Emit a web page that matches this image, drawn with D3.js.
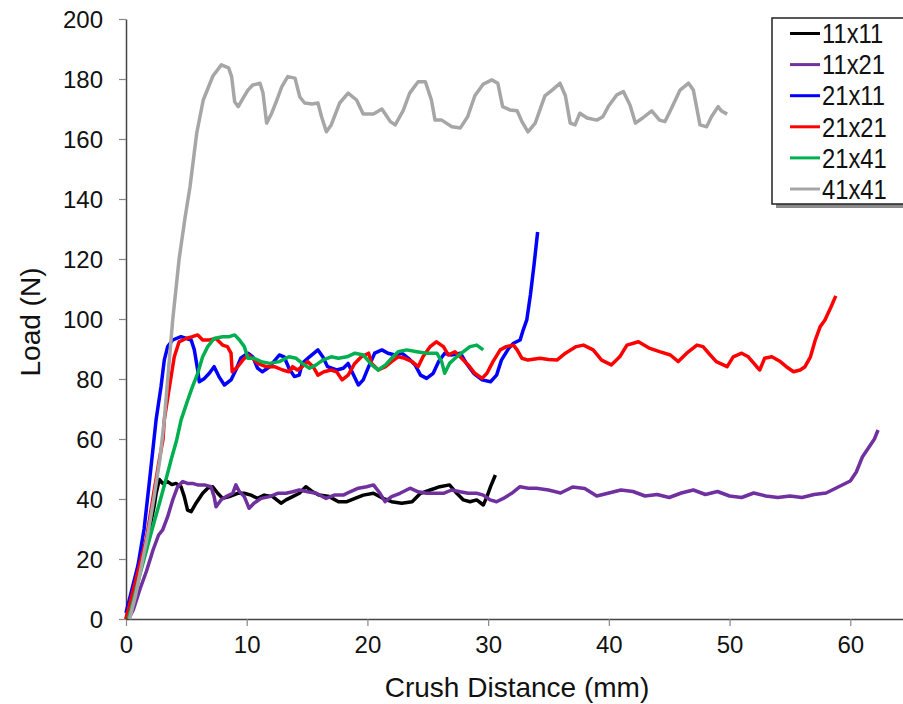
<!DOCTYPE html>
<html>
<head>
<meta charset="utf-8">
<script src="https://cdn.jsdelivr.net/npm/d3@7"></script>
<style>
  body { margin: 0; background: #fff; }
  svg { display: block; font-family: "Liberation Sans", Arial, sans-serif; }
</style>
</head>
<body>
<div id="chart"></div>
<script>
// series names, in legend order
const seriesNames = ["11x11", "11x21", "21x11", "21x21", "21x41", "41x41"];
const seriesColors = ["#000000", "#7030A0", "#0000FF", "#FF0000", "#00B050", "#A6A6A6"];

const xTicks = [0, 10, 20, 30, 40, 50, 60];
const yTicks = [0, 20, 40, 60, 80, 100, 120, 140, 160, 180, 200];

// [crush distance mm, load N]
const s11x11 = [[0,0],[0.5,7],[1,15],[1.5,23],[2,31],[2.35,38],[2.5,42],[2.76,46.5],[3.04,45.2],[3.45,45.8],[3.8,44.8],[4.14,45.2],[4.56,44.1],[4.83,40.8],[5.1,36.3],[5.4,35.8],[5.8,38.6],[6.35,41.9],[6.77,43.6],[7.18,44.1],[7.6,41.9],[8.0,40.2],[8.56,40.8],[9.25,41.9],[9.8,41.9],[10.36,41.3],[10.9,40.2],[11.45,41.3],[12.15,40.8],[12.84,38.6],[13.26,39.7],[13.8,40.8],[14.36,41.9],[14.9,44.1],[15.47,42.4],[16.0,41.3],[16.84,40.8],[17.6,39.1],[18.3,39.1],[18.97,40.2],[19.66,41.3],[20.5,41.9],[21.3,40.2],[22.0,39.1],[22.84,38.6],[23.7,39.1],[24.4,41.9],[25.2,43],[26.0,44.1],[26.8,44.7],[27.4,41.9],[27.95,39.7],[28.5,39.1],[29.05,39.7],[29.6,38],[29.9,40.8],[30.2,44.1],[30.6,48]];

const s11x21 = [[0.2,0],[0.6,3],[1.16,10],[1.7,16],[2.24,23],[2.7,28],[3.04,29.7],[3.45,34.1],[3.87,39.7],[4.28,44.1],[4.7,45.8],[5.1,45.2],[5.5,45.2],[5.94,44.7],[6.5,44.7],[7.04,44.1],[7.3,40.8],[7.46,37.4],[7.87,39.7],[8.28,40.8],[8.84,41.9],[9.1,44.7],[9.4,42.4],[9.8,40.8],[10.2,36.9],[10.6,38.6],[11.2,40.2],[11.9,40.8],[12.56,41.9],[13.26,41.9],[13.8,42.4],[14.36,43],[15.05,42.4],[15.75,41.9],[16.57,40.2],[17.26,41.3],[18.0,41.3],[18.56,42.4],[19.25,43.6],[19.94,44.1],[20.5,44.7],[21.04,41.9],[21.46,39.1],[22.0,40.8],[22.7,41.9],[23.53,43.6],[24.2,42.4],[24.9,41.9],[25.6,41.9],[26.3,41.9],[26.98,43],[27.67,42.4],[28.36,41.9],[29.05,41.9],[29.6,41.3],[30.16,39.7],[30.7,39.1],[31.26,40.2],[31.95,41.9],[32.64,44.1],[33.33,43.6],[34.0,43.6],[35,43],[36,42],[37,44],[38,43.5],[39,41],[40,42],[41,43],[42,42.5],[43,41],[44,41.5],[45,40.5],[46,42],[47,43],[48,41.5],[49,42.5],[50,41],[51,40.5],[52,42],[53,41],[54,40.5],[55,41],[56,40.5],[57,41.5],[58,42],[59,44],[59.5,45],[60,46],[60.5,49],[61,54],[61.5,57],[62,60],[62.3,63]];

const s21x11 = [[0,2],[0.5,10],[1,18],[1.5,30],[2,48],[2.49,66.3],[2.9,77.4],[3.17,86.3],[3.45,90.8],[3.87,93],[4.55,94.1],[5.4,93],[5.66,89.7],[5.94,83],[6.07,79.1],[6.5,80.2],[6.9,81.9],[7.3,84.1],[7.7,80.8],[8.15,78],[8.7,79.7],[9.1,83],[9.5,86.9],[10.1,88.6],[10.5,87.4],[10.9,83.6],[11.3,82.4],[11.9,84.1],[12.7,88],[13.1,87.4],[13.5,83.6],[13.95,80.8],[14.35,81.3],[14.6,85.2],[15.2,87.4],[15.9,89.7],[16.3,87.4],[16.7,84.1],[17.45,83],[18.0,83.6],[18.4,85.2],[18.85,81.3],[19.25,78],[19.65,79.7],[20.1,84.1],[20.6,88.6],[21.2,89.7],[21.7,88.6],[22.3,88],[22.85,88.6],[23.4,86.9],[23.95,84.7],[24.4,81.3],[24.9,80.2],[25.45,81.9],[25.9,85.8],[26.4,88.6],[26.95,88],[27.7,88.6],[28.2,85.2],[28.8,81.9],[29.5,79.7],[30.2,79.1],[30.7,81.3],[31.1,86.3],[31.7,90.2],[32.1,91.9],[32.65,93],[32.9,96.3],[33.2,99.7],[33.5,108],[33.8,118],[34.1,129]];

const s21x21 = [[0,0],[0.5,8],[1,16],[1.7,27],[2.3,42],[2.8,54],[3.07,60],[3.17,66.3],[3.6,77.4],[4.0,87.4],[4.4,92.4],[4.97,93.5],[5.5,94.1],[5.94,94.7],[6.35,93],[6.9,93],[7.45,93.5],[8.0,91.3],[8.4,90.8],[8.7,88.6],[8.8,82.4],[9.25,84.1],[9.67,86.3],[10.1,88],[10.5,86.9],[10.9,85.2],[11.6,84.1],[12.3,84.1],[12.98,83],[13.5,82.4],[13.8,84.1],[14.2,83],[14.6,84.1],[15.05,85.8],[15.5,84.1],[15.9,81.3],[16.4,82.4],[17.0,83],[17.45,82.4],[17.9,79.7],[18.4,81.3],[18.95,85.2],[19.5,87.4],[20.1,88.6],[20.35,85.2],[20.9,83],[21.5,84.1],[22.0,85.8],[22.55,87.4],[23.1,86.9],[23.7,85.8],[24.2,84.1],[24.6,87.4],[25.2,90.8],[25.7,92.4],[26.3,90.8],[26.7,88],[27.25,89.1],[27.8,86.9],[28.35,84.7],[28.9,81.9],[29.5,80.2],[29.9,81.9],[30.4,85.8],[31.0,89.7],[31.5,90.8],[32.1,91.3],[32.4,89.7],[32.8,86.9],[33.3,86.3],[34.3,86.9],[35.0,86.5],[35.7,86.3],[36.4,88.6],[37.3,90.8],[37.9,91.3],[38.7,89.7],[39.4,86.3],[40.2,84.7],[40.9,87.4],[41.5,91.3],[42.45,92.4],[43.4,90.2],[44.2,89.1],[45.1,88],[45.75,85.8],[46.45,88.6],[47.3,91.3],[47.8,90.8],[48.4,88],[48.9,85.8],[49.8,84.1],[50.3,87.4],[51.0,88.6],[51.55,87.4],[52.25,84.1],[52.5,83],[52.9,86.9],[53.5,87.4],[54.2,85.8],[54.7,84.1],[55.3,82.4],[55.85,83],[56.25,84.1],[56.7,87.4],[57.1,93],[57.5,97.4],[57.9,99.7],[58.4,104],[58.8,107.7]];

const s21x41 = [[0.2,0],[0.6,6],[1.16,15],[1.7,23],[2.24,31],[2.8,39],[3.37,47.4],[3.8,54],[4.2,59.7],[4.56,66.3],[5.1,72.8],[5.5,77.4],[5.94,81.9],[6.35,87.4],[6.77,90.8],[7.3,93.5],[8.0,94.1],[8.56,94.1],[9.0,94.7],[9.4,93],[9.8,90.8],[10.1,86.9],[10.6,86.9],[11.2,85.8],[11.9,85.2],[12.7,85.8],[13.5,87.4],[14.1,86.9],[14.6,85.2],[15.2,83.6],[15.75,84.7],[16.3,86.3],[17.0,87.4],[17.6,86.9],[18.3,87.4],[18.97,88.6],[19.66,88],[20.36,84.7],[20.9,83],[21.5,84.7],[22.0,86.9],[22.55,89.1],[23.25,89.7],[24.1,89.1],[24.9,88.6],[25.75,88.6],[26.15,85.8],[26.4,81.9],[26.8,85.2],[27.4,87.4],[27.95,89.1],[28.5,90.8],[29.05,91.3],[29.6,89.7]];

const s41x41 = [[0.3,0],[0.8,8],[1.3,18],[1.8,28],[2.3,40],[2.8,53],[3.17,66.3],[3.5,82],[3.87,99.7],[4.4,120],[4.9,134],[5.3,144],[5.86,162],[6.4,173],[6.8,177],[7.2,181],[7.9,184.7],[8.5,183.7],[8.75,180.8],[9.0,172.4],[9.3,170.8],[9.7,173.6],[10.1,176.3],[10.5,178],[11.1,178.6],[11.35,175.3],[11.65,165.3],[12.07,168.6],[12.5,173],[12.9,177.4],[13.4,180.8],[14.0,180.3],[14.4,174],[14.8,172],[15.4,171.7],[15.9,172],[16.2,167.4],[16.6,162.4],[17.0,164.7],[17.7,172],[18.4,175.3],[19.1,173],[19.65,168.3],[20.5,168.3],[21.2,170],[21.9,165.8],[22.3,164.7],[22.95,169.4],[23.5,175.3],[24.2,179.1],[24.8,179.1],[25.3,173],[25.6,166.3],[26.15,166.3],[27.0,164.1],[27.7,163.7],[28.3,167.4],[28.9,174.4],[29.6,178.3],[30.3,179.7],[30.8,178.6],[31.2,170.8],[31.8,169.7],[32.4,169.4],[32.8,165.8],[33.3,162.4],[33.9,165.3],[34.7,174.4],[35.3,176.3],[35.95,178.6],[36.4,174.4],[36.8,165.3],[37.2,164.7],[37.6,168.6],[38.2,167],[39.0,166.3],[39.5,167.4],[39.95,170.8],[40.65,174.7],[41.2,175.8],[41.75,171.3],[42.2,165.3],[42.8,167],[43.55,169.4],[44.2,166.3],[44.65,165.8],[45.2,170.3],[45.9,176.3],[46.6,178.6],[47.0,176.3],[47.55,164.7],[48.1,164.1],[48.5,167.4],[49.05,170.8],[49.3,169.4],[49.8,168.3]];

const seriesData = [s11x11, s11x21, s21x11, s21x21, s21x41, s41x41];

let dimensions = {
    width: 903,
    height: 704,
    margin: { left: 126, top: 19, bottom: 85 }
};
dimensions.plotBottom = dimensions.height - dimensions.margin.bottom;

const svg = d3.select("#chart")
    .append("svg")
    .attr("width", dimensions.width)
    .attr("height", dimensions.height);

// x axis runs past the right edge of the picture (to 70 mm)
const xScale = d3.scaleLinear()
    .domain([0, 70])
    .range([dimensions.margin.left, 971]);

const yScale = d3.scaleLinear()
    .domain([0, 200])
    .range([dimensions.plotBottom, dimensions.margin.top]);

//#region axes
const gX = svg.append("g")
    .attr("transform", `translate(0,${dimensions.plotBottom})`)
    .call(d3.axisBottom(xScale).tickValues(xTicks).tickSize(7).tickSizeOuter(0).tickPadding(10));

const gY = svg.append("g")
    .attr("transform", `translate(${dimensions.margin.left},0)`)
    .call(d3.axisLeft(yScale).tickValues(yTicks).tickSize(7).tickSizeOuter(0).tickPadding(16));

[gX, gY].forEach(g => {
    g.select(".domain").attr("stroke", "#444").attr("stroke-width", 1.5);
    g.selectAll(".tick line").attr("stroke", "#888").attr("stroke-width", 1.2);
    g.selectAll(".tick text")
        .attr("fill", "#111")
        .style("font-size", "24px")
        .style("font-family", "'Liberation Sans', Arial, sans-serif");
});
gY.selectAll(".tick text").attr("dy", "0.35em");
//#endregion

//#region lines
const lineGenerator = d3.line()
    .x(d => xScale(d[0]))
    .y(d => yScale(d[1]));

seriesData.forEach((data, i) => {
    svg.append("path")
        .datum(data)
        .attr("d", lineGenerator)
        .attr("fill", "none")
        .attr("stroke", seriesColors[i])
        .attr("stroke-width", 3.5)
        .attr("stroke-linejoin", "round");
});
//#endregion

//#region axis titles
svg.append("text")
    .attr("x", 517)
    .attr("y", 697)
    .attr("text-anchor", "middle")
    .style("font-size", "28px")
    .attr("fill", "#111")
    .text("Crush Distance (mm)");

svg.append("text")
    .attr("transform", "translate(40,322) rotate(-90)")
    .attr("text-anchor", "middle")
    .style("font-size", "28px")
    .attr("fill", "#111")
    .text("Load (N)");
//#endregion

//#region legend
const legend = svg.append("g");
legend.append("rect")
    .attr("x", 776).attr("y", 22)
    .attr("width", 140).attr("height", 186)
    .attr("fill", "#8a8a8a");
legend.append("rect")
    .attr("x", 772).attr("y", 18)
    .attr("width", 140).attr("height", 186)
    .attr("fill", "#fff")
    .attr("stroke", "#222")
    .attr("stroke-width", 1.5);

const rows = legend.selectAll("g.row")
    .data(seriesNames)
    .enter()
    .append("g")
    .attr("class", "row")
    .attr("transform", (d, i) => `translate(0,${33.5 + i * 31.1})`);

rows.append("line")
    .attr("x1", 790).attr("x2", 820)
    .attr("y1", 0).attr("y2", 0)
    .attr("stroke", (d, i) => seriesColors[i])
    .attr("stroke-width", 3);

// text in the picture is a little taller than wide
rows.append("text")
    .attr("transform", "translate(822,0) scale(0.88,1)")
    .attr("dy", "0.36em")
    .style("font-size", "27px")
    .attr("fill", "#111")
    .text(d => d);
//#endregion
</script>
</body>
</html>
